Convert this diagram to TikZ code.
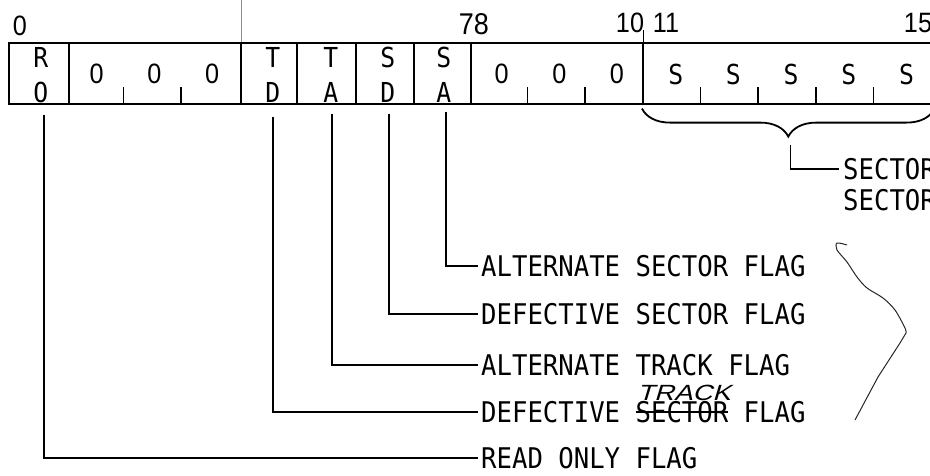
\documentclass[tikz,border=0pt]{standalone}
\usepackage{fontspec}
\usepackage{tikz}
\usetikzlibrary{
  positioning,
  calc,
  decorations.pathreplacing,
}
\newfontfamily\regfont{DejaVu Sans Mono}[FakeStretch=0.9]
\newfontfamily\digitfont{Liberation Sans}[FakeStretch=0.9]
\newfontfamily\handfont{Liberation Sans}[FakeSlant=0.3,FakeStretch=1.25]
\newsavebox{\strikebox}
\newcommand{\struck}[1]{%
  \sbox{\strikebox}{#1}%
  \rlap{\rule[0.45\ht\strikebox]{\wd\strikebox}{1.4pt}}\usebox{\strikebox}}
\tikzset{
  field/.style={
    rectangle, draw, line width=1.6pt, minimum height=61pt,
    inner sep=0pt, anchor=north west,
  },
  bitchar/.style={
    inner sep=0pt, align=center, font=\regfont\fontsize{27.5}{35}\selectfont,
  },
  bitzero/.style={
    inner sep=0pt, font=\digitfont\fontsize{28}{28}\selectfont,
  },
  bitnum/.style={
    inner sep=0pt, font=\digitfont\fontsize{30}{30}\selectfont,
  },
  flaglabel/.style={
    inner sep=0pt, anchor=west, font=\regfont\fontsize{28.5}{30}\selectfont,
  },
  leader/.style={line width=1.8pt},
  bittick/.style={line width=1.6pt},
  scribble/.style={line width=1pt, black!85},
}

\begin{document}
\begin{tikzpicture}[x=1pt, y=-1pt]
\useasboundingbox (0,0) rectangle (930,475);
\clip (0,0) rectangle (930,475);

% register fields
\node[field, minimum width=60pt]  (fRO)    at (8,42)   {};
\node[field, minimum width=172pt] (fZeroA) at (68,42)  {};
\node[field, minimum width=56pt]  (fTD)    at (240,42) {};
\node[field, minimum width=59pt]  (fTA)    at (296,42) {};
\node[field, minimum width=58pt]  (fSD)    at (355,42) {};
\node[field, minimum width=57pt]  (fSA)    at (413,42) {};
\node[field, minimum width=172pt] (fZeroB) at (470,42) {};
\node[field, minimum width=291pt] (fSect)  at (642,42) {};

\draw[line width=0.5pt, black!45] (fZeroA.north east) -- ++(0,-42);
\draw[line width=1.6pt] (fZeroB.north east) -- ++(0,-12);

% bit ticks
\foreach \i in {2,3,9,10,12,13,14,15}
  \draw[bittick] ({8+57.7*\i},103) -- ++(0,-16);

% field contents
\node[bitchar] (ro) at ([xshift=2pt,yshift=-1.5pt]fRO.center) {R\\O};
\node[bitchar] (td) at ([xshift=4pt,yshift=-1.5pt]fTD.center) {T\\D};
\node[bitchar] (ta) at ([xshift=4.5pt,yshift=-1.5pt]fTA.center) {T\\A};
\node[bitchar] (sd) at ([xshift=3pt,yshift=-1.5pt]fSD.center) {S\\D};
\node[bitchar] (sa) at ([xshift=1.5pt,yshift=-1.5pt]fSA.center) {S\\A};
\foreach \i in {1,2,3}
  \node[bitzero] (zA\i) at ({8+57.7*\i+31},74) {0};
\foreach \i in {8,9,10}
  \node[bitzero] (zB\i) at ({8+57.7*\i+32},74) {0};
\foreach \i in {11,...,15}
  \node[bitchar] (s\i) at ({8+57.7*\i+33},74) {S};

% bit numbers
\node[bitzero] (n0) at (20,26) {0};
\node[bitnum] (n78) at (474,24) {78};
\node[bitnum, font=\digitfont\fontsize{28}{28}\selectfont] (n10) at (630,23) {10};
\node[bitnum, font=\digitfont\fontsize{28}{28}\selectfont] (n11) at (666,23) {11};
\node[bitnum, font=\digitfont\fontsize{28}{28}\selectfont] (n15) at (918,23) {15};

% flag names
\node[flaglabel] (saFlag) at (481,266) {ALTERNATE SECTOR FLAG};
\node[flaglabel] (sdFlag) at (481,314) {DEFECTIVE SECTOR FLAG};
\node[flaglabel] (taFlag) at (481,365) {ALTERNATE TRACK FLAG};
\node[flaglabel] (tdFlag) at (481,412) {DEFECTIVE \struck{SECTOR} FLAG};
\node[flaglabel] (roFlag) at (481,458) {READ ONLY FLAG};
\node[inner sep=0pt, font=\handfont\fontsize{22}{22}\selectfont] (trackNote) at (684,393) {TRACK};

\draw[leader] ([xshift=4pt,yshift=-7pt]fSA.south) |- ([xshift=-3pt]saFlag.west);
\draw[leader] ([xshift=4pt,yshift=-9pt]fSD.south) |- ([xshift=-3pt]sdFlag.west);
\draw[leader] ([xshift=6pt,yshift=-9pt]fTA.south) |- ([xshift=-3pt]taFlag.west);
\draw[leader] ([xshift=4pt,yshift=-12pt]fTD.south) |- ([xshift=-3pt]tdFlag.west);
\draw[leader] ([xshift=5pt,yshift=-10pt]fRO.south) |- ([xshift=-3pt]roFlag.west);

% sector field
\draw[leader, decorate, decoration={brace, amplitude=28pt}]
  ([yshift=-4pt]fSect.south east) -- ([yshift=-4pt]fSect.south west);
\coordinate (braceTip) at ([xshift=2pt,yshift=-36pt]fSect.south);
\node[flaglabel] (secA) at (843,169) {SECTOR};
\node[flaglabel] (secB) at (843,200) {SECTOR};
\draw[leader, line width=1.3pt] ([yshift=-4pt]braceTip) |- ([xshift=-4pt]secA.west);

% pencil mark
\draw[scribble] plot[smooth] coordinates {(847,245) (837,243) (837,250) (847,262)
  (857,277) (867,288) (883,298) (895,310) (905,328) (906,333)}
  -- (900,343) -- (878,377) -- (855,420);

\end{tikzpicture}
\end{document}
